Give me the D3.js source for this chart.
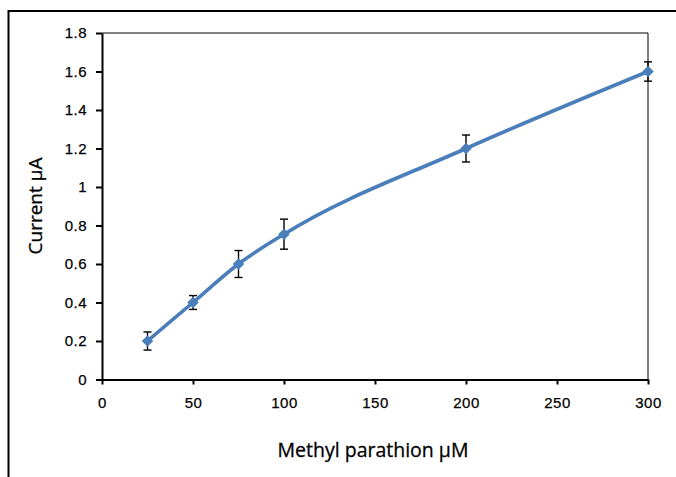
<!DOCTYPE html>
<html>
<head>
<meta charset="utf-8">
<script src="https://cdn.jsdelivr.net/npm/d3@7"></script>
<style>
  body { margin: 0; background: #fff; }
  svg { display: block; font-family: "Open Sans", "Noto Sans", sans-serif; }
  .tick text { fill: #000; }
</style>
</head>
<body>
<svg width="676" height="477"></svg>
<script>
// data
const concentration = [25, 50, 75, 100, 200, 300];
const current = [0.2, 0.4, 0.6, 0.755, 1.2, 1.6];
const errors = [0.047, 0.036, 0.07, 0.078, 0.07, 0.05];
const xTicks = [0, 50, 100, 150, 200, 250, 300];
const yTicks = [0, 0.2, 0.4, 0.6, 0.8, 1, 1.2, 1.4, 1.6, 1.8];

const points = concentration.map((c, i) => ({ x: c, y: current[i], e: errors[i] }));

const svg = d3.select("svg");
const blue = "#4a7ebb";

// outer frame, runs past the picture on right and bottom
svg.append("rect")
  .attr("x", 8.5)
  .attr("y", 11)
  .attr("width", 700)
  .attr("height", 500)
  .attr("fill", "none")
  .attr("stroke", "#000")
  .attr("stroke-width", 2);

const scaleX = d3.scaleLinear().domain([0, 300]).range([102, 648]);
const scaleY = d3.scaleLinear().domain([0, 1.8]).range([379.5, 33]);

// thin top and right border of the plot area
svg.append("path")
  .attr("d", `M${scaleX(0)},${scaleY(1.8)}H${scaleX(300)}V${scaleY(0)}`)
  .attr("fill", "none")
  .attr("stroke", "#000")
  .attr("stroke-width", 1);

const axisX = d3.axisBottom(scaleX)
  .tickValues(xTicks)
  .tickSize(5)
  .tickSizeOuter(0)
  .tickPadding(13);

const axisY = d3.axisLeft(scaleY)
  .tickValues(yTicks)
  .tickSize(6)
  .tickSizeOuter(0)
  .tickPadding(9)
  .tickFormat(d3.format("~g"));

const gx = svg.append("g")
  .attr("transform", `translate(0,${scaleY(0)})`)
  .call(axisX);
const gy = svg.append("g")
  .attr("transform", `translate(${scaleX(0)},0)`)
  .call(axisY);

[gx, gy].forEach(g => {
  g.attr("font-size", 15);
  g.select(".domain").attr("stroke-width", 2);
  g.selectAll(".tick line").attr("stroke-width", 2);
  g.selectAll(".tick text")
    .attr("letter-spacing", 0.5)
    .attr("stroke", "#000")
    .attr("stroke-width", 0.25);
});

// axis titles
svg.append("text")
  .attr("x", 373)
  .attr("y", 457)
  .attr("text-anchor", "middle")
  .attr("font-size", 19.5)
  .attr("stroke", "#000")
  .attr("stroke-width", 0.3)
  .text("Methyl parathion µM");

svg.append("text")
  .attr("transform", "translate(42,206) rotate(-90)")
  .attr("text-anchor", "middle")
  .attr("font-size", 19)
  .attr("stroke", "#000")
  .attr("stroke-width", 0.3)
  .text("Current µA");

// smoothed line
const line = d3.line()
  .x(d => scaleX(d.x))
  .y(d => scaleY(d.y))
  .curve(d3.curveMonotoneX);

svg.append("path")
  .datum(points)
  .attr("d", line)
  .attr("fill", "none")
  .attr("stroke", blue)
  .attr("stroke-width", 3.6);

// error bars
const bars = svg.selectAll("g.err")
  .data(points)
  .enter()
  .append("g")
  .attr("class", "err")
  .attr("stroke", "#000")
  .attr("stroke-width", 1.4);

bars.append("line")
  .attr("x1", d => scaleX(d.x))
  .attr("x2", d => scaleX(d.x))
  .attr("y1", d => scaleY(d.y - d.e))
  .attr("y2", d => scaleY(d.y + d.e));

bars.append("line")
  .attr("x1", d => scaleX(d.x) - 4)
  .attr("x2", d => scaleX(d.x) + 4)
  .attr("y1", d => scaleY(d.y + d.e))
  .attr("y2", d => scaleY(d.y + d.e));

bars.append("line")
  .attr("x1", d => scaleX(d.x) - 4)
  .attr("x2", d => scaleX(d.x) + 4)
  .attr("y1", d => scaleY(d.y - d.e))
  .attr("y2", d => scaleY(d.y - d.e));

// diamond markers
svg.selectAll("path.marker")
  .data(points)
  .enter()
  .append("path")
  .attr("class", "marker")
  .attr("d", d3.symbol().type(d3.symbolDiamond2).size(85))
  .attr("transform", d => `translate(${scaleX(d.x)},${scaleY(d.y)})`)
  .attr("fill", blue);
</script>
</body>
</html>
